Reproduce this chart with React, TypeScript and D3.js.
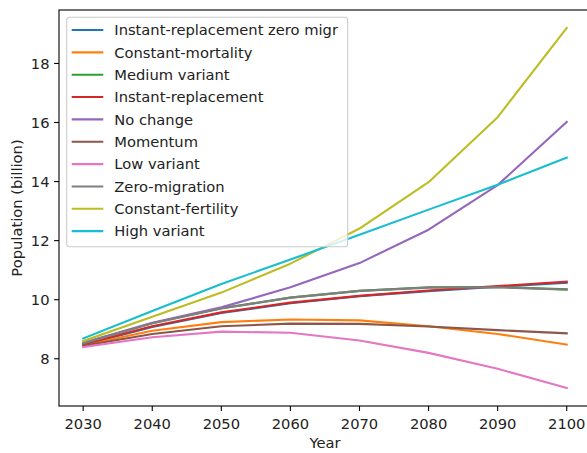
import * as d3 from "d3";

const years = [2030, 2040, 2050, 2060, 2070, 2080, 2090, 2100];

const instantReplacementZeroMigr = [8.47, 9.08, 9.55, 9.88, 10.12, 10.29, 10.44, 10.57];
const constantMortality = [8.46, 8.95, 9.24, 9.33, 9.3, 9.1, 8.84, 8.48];
const mediumVariant = [8.53, 9.2, 9.71, 10.07, 10.3, 10.42, 10.43, 10.35];
const instantReplacement = [8.48, 9.1, 9.57, 9.9, 10.13, 10.31, 10.46, 10.61];
const noChange = [8.54, 9.22, 9.74, 10.42, 11.24, 12.37, 13.88, 16.02];
const momentum = [8.44, 8.84, 9.1, 9.19, 9.18, 9.09, 8.97, 8.86];
const lowVariant = [8.4, 8.73, 8.92, 8.88, 8.62, 8.2, 7.66, 7.01];
const zeroMigration = [8.52, 9.2, 9.7, 10.07, 10.3, 10.41, 10.42, 10.34];
const constantFertility = [8.6, 9.42, 10.24, 11.22, 12.41, 13.98, 16.18, 19.2];
const highVariant = [8.69, 9.62, 10.53, 11.36, 12.2, 13.05, 13.89, 14.81];

const seriesNames = [
  "Instant-replacement zero migr",
  "Constant-mortality",
  "Medium variant",
  "Instant-replacement",
  "No change",
  "Momentum",
  "Low variant",
  "Zero-migration",
  "Constant-fertility",
  "High variant",
];
const seriesValues = [
  instantReplacementZeroMigr,
  constantMortality,
  mediumVariant,
  instantReplacement,
  noChange,
  momentum,
  lowVariant,
  zeroMigration,
  constantFertility,
  highVariant,
];

const xTicks = [2030, 2040, 2050, 2060, 2070, 2080, 2090, 2100];
const yTicks = [8, 10, 12, 14, 16, 18];

export default function App() {
  const width = 587;
  const height = 453;
  const left = 59;
  const right = 590.9;
  const top = 10;
  const bottom = 406;
  const font = "DejaVu Sans";
  const fontSize = 14.7;

  const allValues = seriesValues.flat();
  const yMin = d3.min(allValues) as number;
  const yMax = d3.max(allValues) as number;
  const yPad = (yMax - yMin) * 0.05;
  const xPad = (2100 - 2030) * 0.05;

  const x = d3.scaleLinear().domain([2030 - xPad, 2100 + xPad]).range([left, right]);
  const y = d3.scaleLinear().domain([yMin - yPad, yMax + yPad]).range([bottom, top]);
  const color = d3.scaleOrdinal<number, string>().domain(d3.range(10)).range(d3.schemeCategory10);

  const line = d3
    .line<number>()
    .x((_, i) => x(years[i]))
    .y((d) => y(d));

  const legendX = 66.7;
  const legendY = 17.3;
  const legendW = 281;
  const legendH = 229.4;
  const rowH = 22.35;

  return (
    <svg
      width={width}
      height={height}
      style={{ position: "absolute", left: 0, top: 0, background: "white" }}
      fontFamily={font}
    >
      <defs>
        <clipPath id="plot">
          <rect x={left} y={top} width={right - left} height={bottom - top} />
        </clipPath>
      </defs>
      <g clipPath="url(#plot)">
        {seriesValues.map((vals, i) => (
          <path
            key={seriesNames[i]}
            d={line(vals) || ""}
            fill="none"
            stroke={color(i)}
            strokeWidth={2.1}
            strokeLinejoin="round"
            strokeLinecap="square"
          />
        ))}
      </g>
      <rect
        x={left}
        y={top}
        width={right - left}
        height={bottom - top}
        fill="none"
        stroke="black"
        strokeWidth={1.1}
      />
      {xTicks.map((t) => (
        <g key={t} transform={`translate(${x(t)},${bottom})`}>
          <line y2={4.9} stroke="black" strokeWidth={1.1} />
          <text y={23} textAnchor="middle" fontSize={fontSize} fill="#222">
            {t}
          </text>
        </g>
      ))}
      {yTicks.map((t) => (
        <g key={t} transform={`translate(${left},${y(t)})`}>
          <line x2={-4.9} stroke="black" strokeWidth={1.1} />
          <text x={-9.5} dy="0.35em" textAnchor="end" fontSize={fontSize} fill="#222">
            {t}
          </text>
        </g>
      ))}
      <text x={(left + right) / 2} y={448} textAnchor="middle" fontSize={fontSize} fill="#222">
        Year
      </text>
      <text
        transform={`translate(21.5,${(top + bottom) / 2}) rotate(-90)`}
        textAnchor="middle"
        fontSize={fontSize}
        fill="#222"
      >
        Population (billion)
      </text>
      <g transform={`translate(${legendX},${legendY})`}>
        <rect
          width={legendW}
          height={legendH}
          rx={3}
          fill="white"
          fillOpacity={0.8}
          stroke="#cccccc"
          strokeWidth={1.1}
        />
        {seriesNames.map((name, i) => (
          <g key={name} transform={`translate(0,${12.7 + i * rowH})`}>
            <line x1={5} x2={36.6} stroke={color(i)} strokeWidth={2.1} />
            <text x={47.6} dy="0.35em" fontSize={fontSize} fill="#222">
              {name}
            </text>
          </g>
        ))}
      </g>
    </svg>
  );
}
